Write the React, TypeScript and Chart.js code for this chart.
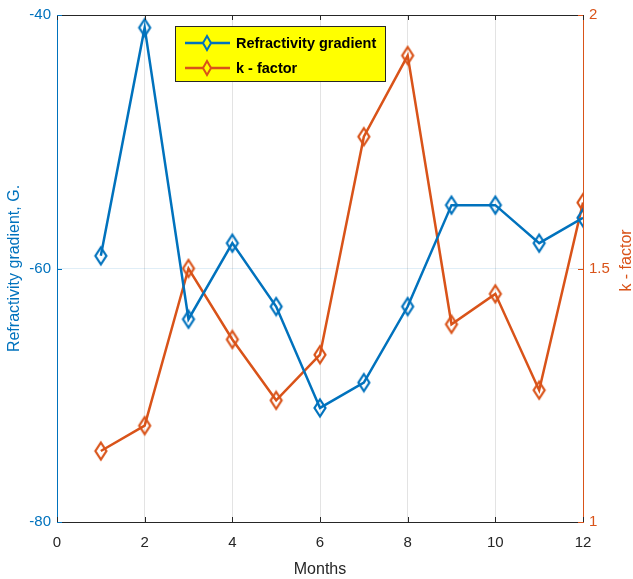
import React, { useEffect, useRef } from "react";
import { Chart, registerables } from "chart.js";

Chart.register(...registerables);

const months = [1, 2, 3, 4, 5, 6, 7, 8, 9, 10, 11, 12];
const refractivity = [-59, -41, -64, -58, -63, -71, -69, -63, -55, -55, -58, -56];
const kFactor = [1.14, 1.19, 1.5, 1.36, 1.24, 1.33, 1.76, 1.92, 1.39, 1.45, 1.26, 1.63];
const xTicks = [0, 2, 4, 6, 8, 10, 12];
const leftTicks = [-80, -60, -40];
const rightTicks = [1, 1.5, 2];
const seriesNames = ["Refractivity gradient", "k - factor"];

const BLUE = "#0072BD";
const ORANGE = "#D95319";
const DARK = "#262626";
const FONT = "'Liberation Sans', Arial, Helvetica, sans-serif";

function diamondPath(ctx: CanvasRenderingContext2D, cx: number, cy: number, hw: number, hh: number) {
  ctx.beginPath();
  ctx.moveTo(cx, cy - hh);
  ctx.lineTo(cx + hw, cy);
  ctx.lineTo(cx, cy + hh);
  ctx.lineTo(cx - hw, cy);
  ctx.closePath();
}

function makeDiamond(color: string) {
  const c = document.createElement("canvas");
  c.width = 16;
  c.height = 22;
  const ctx = c.getContext("2d")!;
  ctx.strokeStyle = color;
  ctx.lineWidth = 2.2;
  ctx.lineJoin = "miter";
  diamondPath(ctx, 8, 11, 5.5, 8.5);
  ctx.stroke();
  return c;
}

const decorPlugin = {
  id: "decor",
  afterDraw(chart: any) {
    const ctx = chart.ctx;
    const { left, right, top, bottom } = chart.chartArea;
    const xs = chart.scales.x;
    const yl = chart.scales.y;
    const yr = chart.scales.y1;
    ctx.save();
    ctx.strokeStyle = DARK;
    ctx.lineWidth = 1;
    ctx.beginPath();
    ctx.moveTo(left, top + 0.5);
    ctx.lineTo(right, top + 0.5);
    ctx.stroke();
    const tl = 5;
    xTicks.forEach((v) => {
      const px = Math.round(xs.getPixelForValue(v)) + 0.5;
      ctx.beginPath();
      ctx.moveTo(px, bottom);
      ctx.lineTo(px, bottom - tl);
      ctx.moveTo(px, top);
      ctx.lineTo(px, top + tl);
      ctx.stroke();
    });
    ctx.strokeStyle = BLUE;
    leftTicks.forEach((v) => {
      const py = Math.round(yl.getPixelForValue(v)) + 0.5;
      ctx.beginPath();
      ctx.moveTo(left, py);
      ctx.lineTo(left + tl, py);
      ctx.stroke();
    });
    ctx.strokeStyle = ORANGE;
    rightTicks.forEach((v) => {
      const py = Math.round(yr.getPixelForValue(v)) + 0.5;
      ctx.beginPath();
      ctx.moveTo(right, py);
      ctx.lineTo(right - tl, py);
      ctx.stroke();
    });
    ctx.fillStyle = ORANGE;
    ctx.font = `16px ${FONT}`;
    ctx.textAlign = "center";
    ctx.textBaseline = "middle";
    ctx.translate(627, (top + bottom) / 2 - 8);
    ctx.rotate(-Math.PI / 2);
    ctx.fillText("k - factor", 0, 0);
    ctx.restore();

    // legend
    ctx.save();
    const bx = left + 118;
    const by = top + 11;
    const bw = 210;
    const bh = 55;
    ctx.fillStyle = "#FFFF00";
    ctx.fillRect(bx, by, bw, bh);
    ctx.strokeStyle = DARK;
    ctx.lineWidth = 1;
    ctx.strokeRect(bx + 0.5, by + 0.5, bw, bh);
    const colors = [BLUE, ORANGE];
    ctx.font = `bold 14.5px ${FONT}`;
    ctx.textAlign = "left";
    ctx.textBaseline = "middle";
    seriesNames.forEach((name, i) => {
      const cy = by + 17 + i * 25;
      ctx.strokeStyle = colors[i];
      ctx.lineWidth = 2.5;
      ctx.beginPath();
      ctx.moveTo(bx + 10, cy);
      ctx.lineTo(bx + 55, cy);
      ctx.stroke();
      ctx.lineWidth = 2;
      diamondPath(ctx, bx + 32, cy, 4, 7);
      ctx.fillStyle = "#FFFF00";
      ctx.fill();
      ctx.stroke();
      ctx.fillStyle = "#000";
      ctx.fillText(name, bx + 61, cy + 1);
    });
    ctx.restore();
  },
};

export default function App() {
  const ref = useRef<HTMLCanvasElement | null>(null);
  useEffect(() => {
    document.body.style.margin = "0";
    const canvas = ref.current!;
    const chart = new Chart(canvas, {
      type: "line",
      data: {
        datasets: [
          {
            label: seriesNames[0],
            data: months.map((m, i) => ({ x: m, y: refractivity[i] })),
            borderColor: BLUE,
            borderWidth: 2.5,
            pointStyle: makeDiamond(BLUE) as any,
            yAxisID: "y",
            tension: 0,
          },
          {
            label: seriesNames[1],
            data: months.map((m, i) => ({ x: m, y: kFactor[i] })),
            borderColor: ORANGE,
            borderWidth: 2.5,
            pointStyle: makeDiamond(ORANGE) as any,
            yAxisID: "y1",
            tension: 0,
          },
        ],
      },
      options: {
        responsive: false,
        animation: false,
        devicePixelRatio: 1,
        layout: { padding: { top: 14, left: 0, right: 0, bottom: 0 } },
        plugins: { legend: { display: false }, tooltip: { enabled: false } },
        scales: {
          x: {
            type: "linear",
            min: 0,
            max: 12,
            afterBuildTicks: (s: any) => {
              s.ticks = xTicks.map((v) => ({ value: v }));
            },
            afterFit: (s: any) => {
              s.height = 57;
            },
            ticks: { color: DARK, font: { size: 15, family: FONT }, padding: 12, maxRotation: 0 },
            grid: { color: "#e3e3e3", drawTicks: false, lineWidth: 1 },
            border: { color: DARK, width: 1 },
            title: { display: true, text: "Months", color: DARK, font: { size: 16, family: FONT }, padding: 0 },
          },
          y: {
            type: "linear",
            position: "left",
            min: -80,
            max: -40,
            afterBuildTicks: (s: any) => {
              s.ticks = leftTicks.map((v) => ({ value: v }));
            },
            afterFit: (s: any) => {
              s.width = 57;
            },
            ticks: { color: BLUE, font: { size: 15, family: FONT }, padding: 6, callback: (v: any) => String(v) },
            grid: { color: "rgba(0,114,189,0.12)", drawTicks: false },
            border: { color: BLUE, width: 1 },
            title: {
              display: true,
              text: "Refractivity gradient, G.",
              color: BLUE,
              font: { size: 16, family: FONT },
              padding: { top: 5, bottom: 0 },
            },
          },
          y1: {
            type: "linear",
            position: "right",
            min: 1,
            max: 2,
            afterBuildTicks: (s: any) => {
              s.ticks = rightTicks.map((v) => ({ value: v }));
            },
            afterFit: (s: any) => {
              s.width = 50;
            },
            ticks: { color: ORANGE, font: { size: 15, family: FONT }, padding: 6, callback: (v: any) => String(v) },
            grid: { display: false, drawTicks: false },
            border: { color: ORANGE, width: 1 },
          },
        },
      } as any,
      plugins: [decorPlugin],
    });
    return () => chart.destroy();
  }, []);
  return (
    <div style={{ position: "absolute", left: 0, top: 0, width: 633, height: 579 }}>
      <canvas ref={ref} width={633} height={579} />
    </div>
  );
}
